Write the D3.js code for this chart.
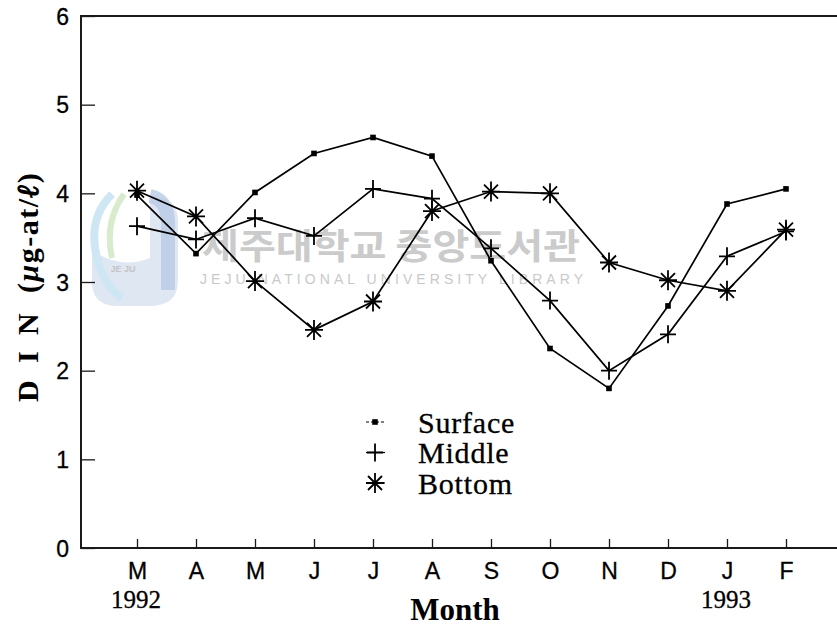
<!DOCTYPE html>
<html>
<head>
<meta charset="utf-8">
<script src="https://cdn.jsdelivr.net/npm/d3@7"></script>
<style>
  html, body { margin: 0; padding: 0; background: #fff; }
  svg { display: block; }
</style>
</head>
<body>
<svg id="chart" width="837" height="635"></svg>
<script>
// Monthly DIN at three depths, March 1992 – February 1993
const months = ["M", "A", "M", "J", "J", "A", "S", "O", "N", "D", "J", "F"];
const surface = [3.98, 3.32, 4.01, 4.45, 4.63, 4.42, 3.24, 2.25, 1.80, 2.73, 3.88, 4.05];
const middle  = [3.63, 3.48, 3.72, 3.52, 4.05, 3.94, 3.38, 2.79, 2.00, 2.41, 3.29, 3.57];
const bottom  = [4.03, 3.74, 3.01, 2.46, 2.78, 3.80, 4.02, 4.00, 3.22, 3.02, 2.90, 3.59];
const yTicks = [0, 1, 2, 3, 4, 5, 6];
const yearLabels = [{ i: 0, text: "1992" }, { i: 10, text: "1993" }];
const seriesNames = ["Surface", "Middle", "Bottom"];

const svg = d3.select("#chart");
const box = { left: 81, right: 837, top: 16, bottom: 548 };

const x = d3.scaleLinear().domain([0, 11]).range([137, 786]);
const y = d3.scaleLinear().domain([0, 6]).range([box.bottom, box.top]);

const serif = "'Liberation Serif', 'Times New Roman', serif";
const sans = "'Liberation Sans', Arial, sans-serif";

// --- library watermark ---
const wm = svg.append("g").attr("class", "watermark");
wm.append("path")
  .attr("d", "M150,196 Q178,196 178,222 L178,280 Q178,306 150,306 L118,306 Q92,306 92,282 L92,250 Q120,270 150,258 Z")
  .attr("fill", "#dfe7f3");
wm.append("path")
  .attr("d", "M150,196 Q170,200 168,230 L168,290")
  .attr("fill", "none").attr("stroke", "#b9cbe6").attr("stroke-width", 14).attr("opacity", 0.8);
wm.append("path")
  .attr("d", "M112,194 Q86,220 98,262 Q104,285 122,298")
  .attr("fill", "none").attr("stroke", "#cfe6f4").attr("stroke-width", 8);
wm.append("path")
  .attr("d", "M124,194 Q104,222 112,258")
  .attr("fill", "none").attr("stroke", "#d8ebcc").attr("stroke-width", 6);
wm.append("text").attr("x", 123).attr("y", 272).attr("text-anchor", "middle")
  .attr("font-family", sans).attr("font-size", 9).attr("font-weight", "bold")
  .attr("fill", "#c4c4c4").text("JE JU");
wm.append("text").attr("x", 202).attr("y", 259)
  .attr("font-family", "'Noto Sans CJK KR', sans-serif").attr("font-size", 35)
  .attr("font-weight", "bold").attr("fill", "#cbcbcb")
  .attr("textLength", 378).attr("lengthAdjust", "spacingAndGlyphs")
  .text("제주대학교 중앙도서관");
wm.append("text").attr("x", 200).attr("y", 284)
  .attr("font-family", sans).attr("font-size", 14).attr("fill", "#c9c9c9")
  .attr("textLength", 383).attr("lengthAdjust", "spacing")
  .text("JEJU NATIONAL UNIVERSITY   LIBRARY");

// --- frame ---
const frame = svg.append("g").attr("stroke", "#1a1a1a").attr("stroke-width", 2);
frame.append("line").attr("x1", box.left).attr("x2", box.left).attr("y1", box.top - 1).attr("y2", box.bottom + 1);
frame.append("line").attr("x1", box.left).attr("x2", box.right).attr("y1", box.top).attr("y2", box.top);
frame.append("line").attr("x1", box.left).attr("x2", box.right).attr("y1", box.bottom).attr("y2", box.bottom);

// --- axes (ticks point into the plot) ---
const yAxis = d3.axisLeft(y).tickValues(yTicks).tickSize(-14).tickPadding(12).tickFormat(d3.format("d"));
const gy = svg.append("g").attr("transform", `translate(${box.left},0)`).call(yAxis);
gy.select(".domain").remove();
gy.selectAll(".tick line").attr("stroke", "#1a1a1a").attr("stroke-width", 1.3);
gy.selectAll(".tick text").attr("font-family", sans).attr("font-size", 23).attr("fill", "#000")
  .attr("stroke", "#000").attr("stroke-width", 0.3).attr("dy", "0.36em");

const xAxis = d3.axisBottom(x).tickValues(d3.range(months.length)).tickSize(-9).tickPadding(15)
  .tickFormat(i => months[i]);
const gx = svg.append("g").attr("transform", `translate(0,${box.bottom})`).call(xAxis);
gx.select(".domain").remove();
gx.selectAll(".tick line").attr("stroke", "#1a1a1a").attr("stroke-width", 1.3);
gx.selectAll(".tick text").attr("font-family", sans).attr("font-size", 23).attr("fill", "#000")
  .attr("stroke", "#000").attr("stroke-width", 0.3);

svg.append("g").selectAll("text").data(yearLabels).join("text")
  .attr("x", d => x(d.i) - 1).attr("y", box.bottom + 60)
  .attr("text-anchor", "middle")
  .attr("font-family", serif).attr("font-size", 25).attr("fill", "#000")
  .attr("stroke", "#000").attr("stroke-width", 0.3)
  .text(d => d.text);

svg.append("text").attr("x", 455).attr("y", 620).attr("text-anchor", "middle")
  .attr("font-family", serif).attr("font-size", 31).attr("font-weight", "bold").attr("fill", "#000")
  .text("Month");

// y-axis title, read bottom to top
const yt = svg.append("text")
  .attr("transform", "translate(38,402) rotate(-90)")
  .attr("font-family", serif).attr("font-size", 30).attr("font-weight", "bold").attr("fill", "#000");
yt.append("tspan").attr("x", 0).text("D");
yt.append("tspan").attr("x", 39).text("I");
yt.append("tspan").attr("x", 67).text("N");
const unit = yt.append("tspan").attr("x", 109).attr("letter-spacing", 1.5);
unit.append("tspan").text("(");
unit.append("tspan").attr("font-style", "italic").text("μ");
unit.append("tspan").text("g-at/");
unit.append("tspan").attr("font-style", "italic").attr("stroke", "#000").attr("stroke-width", 1.2).text("ℓ");
unit.append("tspan").text(")");

// --- marker shapes ---
function drawSquare(g, cx, cy) {
  g.append("rect").attr("x", cx - 2.8).attr("y", cy - 2.8).attr("width", 5.6).attr("height", 5.6).attr("fill", "#000");
}
function drawPlus(g, cx, cy) {
  g.append("path").attr("d", `M${cx - 8},${cy}H${cx + 8}M${cx},${cy - 9}V${cy + 9}`)
    .attr("stroke", "#000").attr("stroke-width", 1.8).attr("fill", "none");
}
function drawStar(g, cx, cy) {
  g.append("path").attr("d",
    `M${cx - 9},${cy}H${cx + 9}M${cx},${cy - 10}V${cy + 10}` +
    `M${cx - 7},${cy - 7}L${cx + 7},${cy + 7}M${cx - 7},${cy + 7}L${cx + 7},${cy - 7}`)
    .attr("stroke", "#000").attr("stroke-width", 1.8).attr("fill", "none");
}

const series = [
  { name: seriesNames[0], values: surface, marker: drawSquare },
  { name: seriesNames[1], values: middle, marker: drawPlus },
  { name: seriesNames[2], values: bottom, marker: drawStar }
];

const line = d3.line().x((d, i) => x(i)).y(d => y(d));
const plot = svg.append("g");
series.forEach(s => {
  plot.append("path").attr("d", line(s.values))
    .attr("fill", "none").attr("stroke", "#000").attr("stroke-width", 1.7);
  const mg = plot.append("g");
  s.values.forEach((v, i) => s.marker(mg, x(i), y(v)));
});

// --- legend ---
const legend = svg.append("g");
series.forEach((s, k) => {
  const cy = 422 + k * 30.5;
  legend.append("line").attr("x1", 366).attr("x2", 385).attr("y1", cy).attr("y2", cy)
    .attr("stroke", "#000").attr("stroke-width", 1.2).attr("stroke-dasharray", k === 0 ? "3,2" : null);
  s.marker(legend, 375, cy);
  legend.append("text").attr("x", 418).attr("y", cy + 10.5)
    .attr("font-family", serif).attr("font-size", 30).attr("letter-spacing", 0.8).attr("fill", "#000")
    .attr("stroke", "#000").attr("stroke-width", 0.3)
    .text(s.name);
});
</script>
</body>
</html>
